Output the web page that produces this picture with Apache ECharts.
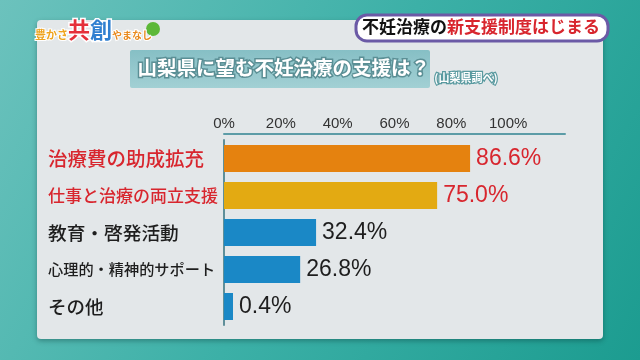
<!DOCTYPE html>
<html><head><meta charset="utf-8">
<script src="https://cdn.jsdelivr.net/npm/echarts/dist/echarts.min.js"></script>
<style>html,body{margin:0;padding:0;background:#2aa79c}#c{width:640px;height:360px}</style>
</head><body><div id="c"></div>
<script>
// ---- data ----
const categories = ['治療費の助成拡充', '仕事と治療の両立支援', '教育・啓発活動', '心理的・精神的サポート', 'その他'];
const values = [86.6, 75.0, 32.4, 26.8, 0.4];
const tickLabels = ['0%', '20%', '40%', '60%', '80%', '100%'];
const titleText = '山梨県に望む不妊治療の支援は？';
const sourceText = '(山梨県調べ)';
const headlineBlack = '不妊治療の';
const headlineRed = '新支援制度はじまる';

// ---- styles ----
const RED = '#d8262e';
const BLACK = '#1e1e1e';
const barColors = ['#e5820f', '#e3aa12', '#1a88c6', '#1a88c6', '#1a88c6'];
const labelColors = [RED, RED, BLACK, BLACK, BLACK];
const catFontSizes = [19.5, 17, 18.7, 15.2, 18.5];
const CJK = '"Noto Sans CJK JP", sans-serif';

const rich = {};
categories.forEach((c, i) => {
  rich['c' + i] = { color: labelColors[i], fontSize: catFontSizes[i], fontFamily: CJK, fontWeight: 500 };
});

const chart = echarts.init(document.getElementById('c'), null, { renderer: 'canvas' });
chart.setOption({
  animation: false,
  backgroundColor: new echarts.graphic.LinearGradient(0, 0, 1, 1, [
    { offset: 0, color: '#6cc2bd' },
    { offset: 0.5, color: '#3cb0a7' },
    { offset: 1, color: '#1c9c90' }
  ]),
  graphic: [
    { type: 'rect', z: -10, shape: { x: 37, y: 20, width: 566, height: 319, r: 4 },
      style: { fill: '#e3e7e9', shadowBlur: 5, shadowOffsetY: 2, shadowColor: 'rgba(0,40,40,0.35)' } },
    { type: 'rect', z: -5, shape: { x: 130, y: 50, width: 300, height: 38, r: 2 },
      style: { fill: new echarts.graphic.LinearGradient(0, 0, 0, 1, [
        { offset: 0, color: '#86bfc5' }, { offset: 1, color: '#a2d0d4' }]) } },
    { type: 'text', z: 5, left: 136, top: 56,
      style: { text: titleText, font: 'bold 19.5px ' + CJK, fill: '#ffffff',
        stroke: '#5b8f95', lineWidth: 3 } },
    { type: 'text', z: 5, left: 433, top: 71,
      style: { text: sourceText, font: 'bold 11px ' + CJK, fill: '#ffffff',
        stroke: '#5a9aa0', lineWidth: 2.5 } },
    { type: 'rect', z: 5, shape: { x: 356, y: 15, width: 252, height: 26, r: 11 },
      style: { fill: '#ffffff', stroke: '#6b5aa6', lineWidth: 3 } },
    { type: 'text', z: 6, left: 362, top: 18,
      style: { rich: {
          a: { fill: '#111', font: 'bold 17px ' + CJK },
          b: { fill: RED, font: 'bold 17px ' + CJK } },
        text: '{a|' + headlineBlack + '}{b|' + headlineRed + '}' } },
    { type: 'circle', z: 4, shape: { cx: 153, cy: 29, r: 7 }, style: { fill: '#5cb838' } },
    { type: 'text', z: 6, left: 34, top: 17,
      style: { rich: {
          s: { fill: '#eea31e', stroke: '#ffffff', lineWidth: 2, font: 'bold 11px ' + CJK, padding: [11, 0, 0, 0] },
          r: { fill: '#e5303a', stroke: '#ffffff', lineWidth: 3, font: 'bold 22px ' + CJK },
          b: { fill: '#2f7fd0', stroke: '#ffffff', lineWidth: 3, font: 'bold 22px ' + CJK },
          t: { fill: '#e98a1e', stroke: '#ffffff', lineWidth: 2, font: 'bold 10px ' + CJK, padding: [11, 0, 0, 0] } },
        text: '{s|豊かさ}{r|共}{b|創}{t|やまなし}' } }
  ],
  grid: { left: 224, top: 140, width: 341, height: 185 },
  xAxis: {
    type: 'value', position: 'top', min: 0, max: 120, interval: 20, offset: 6,
    axisLine: { show: true, lineStyle: { color: '#5c9ca7', width: 2 } },
    axisTick: { show: false },
    splitLine: { show: false },
    axisLabel: {
      margin: 3, color: '#333', fontSize: 15, fontFamily: '"Liberation Sans", sans-serif',
      formatter: v => (v <= 100 ? tickLabels[v / 20] : '')
    }
  },
  yAxis: {
    type: 'category', inverse: true, data: categories,
    axisLine: { show: true, lineStyle: { color: '#5f8f99', width: 2 } },
    axisTick: { show: false },
    axisLabel: {
      align: 'left', margin: 176,
      formatter: (v, i) => '{c' + i + '|' + v + '}',
      rich: rich
    }
  },
  series: [{
    type: 'bar',
    barWidth: 27,
    barMinHeight: 9,
    data: values.map((v, i) => ({
      value: v,
      itemStyle: { color: barColors[i] },
      label: { color: labelColors[i] }
    })),
    label: {
      show: true, position: 'right', distance: 6,
      fontSize: 23, fontFamily: '"Liberation Sans", sans-serif',
      formatter: p => p.value.toFixed(1) + '%'
    }
  }]
});
</script>
</body></html>
